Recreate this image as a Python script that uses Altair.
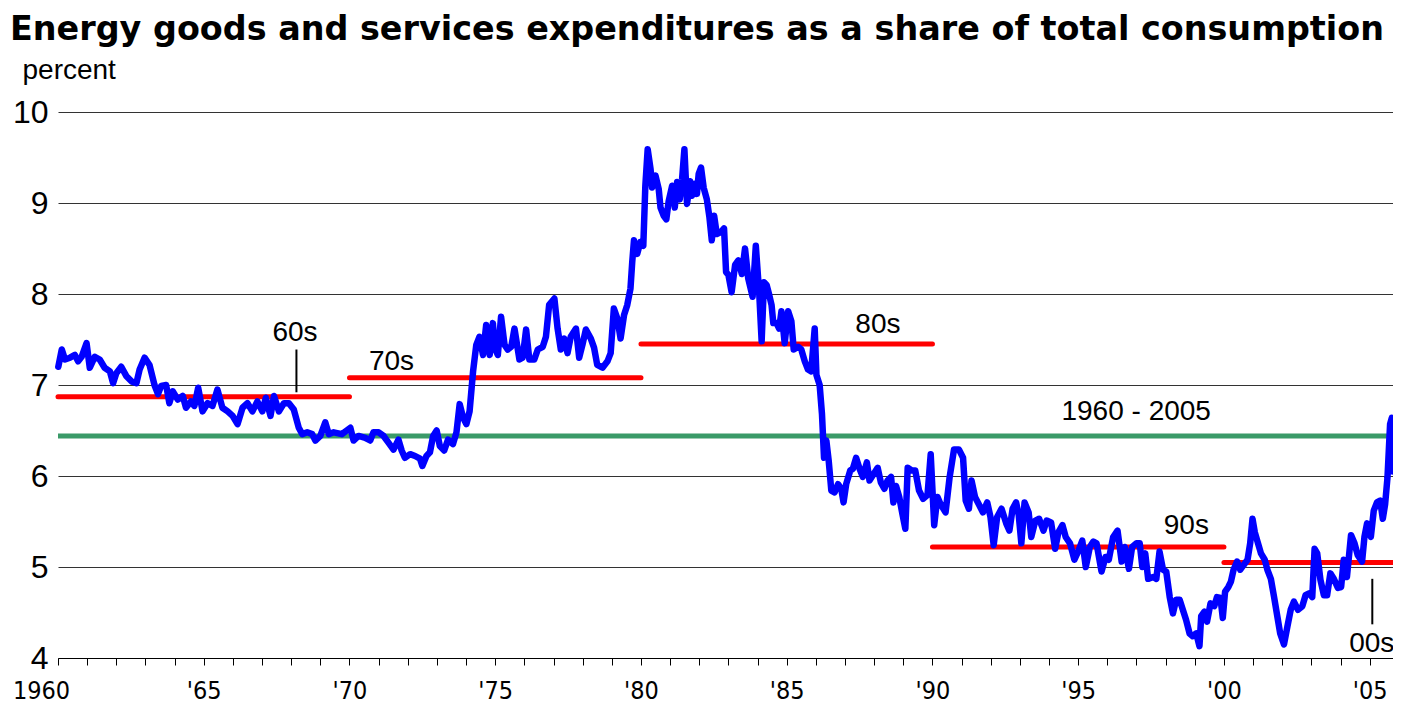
import altair as alt
import pandas as pd

# ---- monthly-ish series ----
years = [
    1960.01, 1960.13, 1960.24, 1960.41, 1960.58, 1960.69, 1960.81, 1960.98, 1961.09, 1961.26,
    1961.43, 1961.60, 1961.78, 1961.89, 1962.00, 1962.17, 1962.34, 1962.52, 1962.69, 1962.80,
    1962.97, 1963.14, 1963.31, 1963.43, 1963.54, 1963.71, 1963.82, 1963.94, 1964.11, 1964.28,
    1964.39, 1964.56, 1964.68, 1964.81, 1964.96, 1965.13, 1965.30, 1965.47, 1965.64, 1965.82,
    1965.99, 1966.16, 1966.33, 1966.50, 1966.67, 1966.84, 1967.01, 1967.13, 1967.29, 1967.41,
    1967.58, 1967.75, 1967.92, 1968.09, 1968.26, 1968.38, 1968.55, 1968.72, 1968.83, 1969.00,
    1969.17, 1969.29, 1969.46, 1969.74,
    1970.03, 1970.14, 1970.31, 1970.54, 1970.71, 1970.82, 1971.00, 1971.17, 1971.33, 1971.51,
    1971.68, 1971.79, 1971.90, 1972.08, 1972.25, 1972.42, 1972.50, 1972.64, 1972.76, 1972.87,
    1972.99, 1973.10, 1973.25, 1973.38, 1973.55, 1973.67, 1973.78, 1973.90, 1974.01, 1974.12,
    1974.24, 1974.35, 1974.46, 1974.58, 1974.69, 1974.81, 1974.92, 1974.98, 1975.09, 1975.20,
    1975.32, 1975.43, 1975.55, 1975.66, 1975.83, 1975.94, 1976.06, 1976.17, 1976.34, 1976.46,
    1976.63, 1976.74, 1976.85, 1977.03, 1977.14, 1977.25, 1977.37, 1977.48, 1977.59, 1977.77,
    1977.88, 1977.99, 1978.11, 1978.28, 1978.39, 1978.50, 1978.68, 1978.85, 1978.96, 1979.07,
    1979.19, 1979.30, 1979.42, 1979.53, 1979.64,
    1979.70, 1979.76, 1979.87, 1979.98, 1980.08, 1980.15, 1980.23, 1980.33, 1980.38, 1980.50,
    1980.61, 1980.67, 1980.78, 1980.87, 1980.95, 1981.07, 1981.16, 1981.24, 1981.33, 1981.41,
    1981.49, 1981.58, 1981.69, 1981.75, 1981.86, 1981.92, 1981.98, 1982.06, 1982.15, 1982.26,
    1982.35, 1982.43, 1982.51, 1982.60, 1982.74, 1982.85, 1982.92, 1983.00, 1983.11, 1983.23,
    1983.34, 1983.46, 1983.57, 1983.68, 1983.83, 1983.94, 1984.06, 1984.14, 1984.22, 1984.31,
    1984.40, 1984.48, 1984.54, 1984.65, 1984.74, 1984.82, 1984.93, 1985.05, 1985.16, 1985.24,
    1985.39, 1985.50, 1985.62, 1985.73, 1985.84, 1985.96, 1986.02, 1986.13, 1986.21, 1986.28,
    1986.36, 1986.44, 1986.53, 1986.64, 1986.76, 1986.87, 1986.95, 1987.04, 1987.18, 1987.27,
    1987.38, 1987.50, 1987.61, 1987.75, 1987.84,
    1988.12, 1988.23, 1988.35, 1988.46, 1988.58, 1988.66, 1988.75, 1988.86, 1988.97, 1989.07,
    1989.15, 1989.29, 1989.41, 1989.54, 1989.68, 1989.83, 1989.94, 1990.06, 1990.17, 1990.28,
    1990.45, 1990.59, 1990.74, 1990.91, 1991.05, 1991.14, 1991.25, 1991.34, 1991.46, 1991.59,
    1991.73, 1991.88, 1991.99, 1992.10, 1992.22, 1992.37, 1992.53, 1992.64, 1992.75, 1992.87,
    1992.96, 1993.05, 1993.16, 1993.30, 1993.39, 1993.53, 1993.66, 1993.81, 1993.92, 1994.07,
    1994.21, 1994.32, 1994.46, 1994.57, 1994.72, 1994.87, 1995.01, 1995.14, 1995.26, 1995.40,
    1995.52, 1995.63, 1995.80, 1995.94, 1996.05, 1996.20, 1996.35, 1996.49, 1996.60, 1996.74,
    1996.85, 1997.00, 1997.11,
    1997.20, 1997.30, 1997.40, 1997.57, 1997.68, 1997.79, 1997.91, 1998.02, 1998.14, 1998.25,
    1998.36, 1998.48, 1998.59, 1998.70, 1998.82, 1998.93, 1999.05, 1999.16, 1999.22, 1999.33,
    1999.42, 1999.54, 1999.67, 1999.76, 1999.88, 1999.96, 2000.04, 2000.15, 2000.24, 2000.33,
    2000.45, 2000.56, 2000.67, 2000.81, 2000.90, 2000.98, 2001.06, 2001.17, 2001.27, 2001.40,
    2001.49, 2001.61, 2001.72, 2001.83, 2001.93, 2002.06, 2002.18, 2002.29, 2002.40, 2002.54,
    2002.69, 2002.80, 2002.92, 2003.03, 2003.11, 2003.20, 2003.31, 2003.43, 2003.54, 2003.65,
    2003.77, 2003.91, 2004.02, 2004.11, 2004.22, 2004.36, 2004.48, 2004.59, 2004.74, 2004.82,
    2004.91, 2005.04, 2005.14, 2005.25, 2005.36, 2005.45, 2005.53, 2005.61, 2005.70, 2005.76,
    2005.80,
]

share = [
    7.20, 7.39, 7.28, 7.30, 7.33, 7.26, 7.31, 7.46, 7.19, 7.31,
    7.28, 7.19, 7.15, 7.02, 7.13, 7.20, 7.10, 7.04, 7.02, 7.17,
    7.30, 7.22, 7.00, 6.90, 6.99, 7.00, 6.80, 6.93, 6.84, 6.88,
    6.75, 6.82, 6.77, 6.97, 6.71, 6.80, 6.77, 6.95, 6.75, 6.71,
    6.66, 6.57, 6.75, 6.80, 6.71, 6.82, 6.71, 6.86, 6.66, 6.88,
    6.71, 6.80, 6.80, 6.73, 6.53, 6.46, 6.48, 6.46, 6.39, 6.44,
    6.59, 6.46, 6.48, 6.46,
    6.53, 6.39, 6.44, 6.42, 6.39, 6.48, 6.48, 6.44, 6.37, 6.29,
    6.40, 6.28, 6.20, 6.24, 6.22, 6.19, 6.11, 6.22, 6.26, 6.44,
    6.50, 6.33, 6.28, 6.40, 6.35, 6.48, 6.79, 6.64, 6.57, 6.71,
    7.15, 7.44, 7.53, 7.33, 7.66, 7.33, 7.68, 7.41, 7.33, 7.75,
    7.44, 7.39, 7.42, 7.62, 7.28, 7.30, 7.61, 7.28, 7.28, 7.39,
    7.42, 7.53, 7.88, 7.95, 7.62, 7.39, 7.51, 7.35, 7.53, 7.62,
    7.30, 7.44, 7.61, 7.51, 7.41, 7.22, 7.19, 7.26, 7.35, 7.84,
    7.73, 7.51, 7.77, 7.88, 8.06,
    8.35, 8.59, 8.44, 8.57, 8.53, 9.19, 9.59, 9.37, 9.17, 9.30,
    9.15, 8.95, 8.86, 8.82, 9.02, 9.19, 8.95, 9.23, 9.04, 9.26,
    9.59, 8.99, 9.24, 9.08, 9.21, 9.10, 9.32, 9.39, 9.17, 9.04,
    8.84, 8.59, 8.86, 8.66, 8.68, 8.72, 8.24, 8.21, 8.02, 8.32,
    8.37, 8.22, 8.50, 8.17, 7.97, 8.53, 7.99, 7.48, 8.13, 8.10,
    7.99, 7.88, 7.68, 7.68, 7.62, 7.81, 7.46, 7.81, 7.70, 7.39,
    7.42, 7.39, 7.26, 7.17, 7.15, 7.62, 7.11, 7.00, 6.68, 6.20,
    6.39, 6.17, 5.84, 5.82, 5.91, 5.86, 5.71, 5.91, 6.06, 6.08,
    6.20, 6.08, 5.99, 6.15, 5.95,
    6.09, 5.93, 5.86, 5.95, 5.99, 5.71, 5.89, 5.77, 5.58, 5.42,
    6.09, 6.06, 6.06, 5.84, 5.75, 5.79, 6.24, 5.46, 5.77, 5.69,
    5.60, 5.99, 6.29, 6.29, 6.20, 5.73, 5.64, 5.95, 5.77, 5.69,
    5.60, 5.71, 5.55, 5.24, 5.55, 5.64, 5.48, 5.40, 5.64, 5.71,
    5.57, 5.26, 5.71, 5.60, 5.33, 5.51, 5.53, 5.40, 5.51, 5.49,
    5.20, 5.38, 5.46, 5.33, 5.26, 5.08, 5.18, 5.29, 5.00, 5.22,
    5.28, 5.26, 4.95, 5.11, 5.08, 5.33, 5.40, 5.06, 5.22, 4.98,
    5.22, 5.26, 5.26,
    5.00, 5.15, 4.87, 4.89, 4.87, 5.17, 4.97, 4.95, 4.67, 4.49,
    4.64, 4.64, 4.53, 4.42, 4.27, 4.24, 4.27, 4.13, 4.46, 4.51,
    4.40, 4.60, 4.57, 4.67, 4.66, 4.44, 4.73, 4.78, 4.84, 4.97,
    5.06, 4.97, 5.02, 5.08, 5.26, 5.53, 5.38, 5.26, 5.15, 5.08,
    4.97, 4.87, 4.67, 4.46, 4.27, 4.15, 4.35, 4.53, 4.62, 4.53,
    4.57, 4.69, 4.71, 4.67, 5.20, 5.15, 4.86, 4.69, 4.69, 4.93,
    4.87, 4.77, 4.78, 5.08, 4.89, 5.35, 5.26, 5.13, 5.06, 5.33,
    5.48, 5.33, 5.62, 5.71, 5.73, 5.53, 5.69, 5.98, 6.57, 6.64,
    6.05,
]

# ---- period averages ----
decade_label = ["60s", "70s", "80s", "90s", "00s"]
decade_start = [1960, 1970, 1980, 1990, 2000]
decade_end = [1970, 1980, 1990, 2000, 2005.8]
decade_avg = [6.87, 7.08, 7.45, 5.22, 5.05]

overall_start = [1960]
overall_end = [2005.8]
overall_avg = [6.44]

# ---- annotation labels (anchored in data units) ----
ann_text = ["60s", "70s", "80s", "90s", "00s", "1960 - 2005"]
ann_year = [1968.13, 1971.44, 1988.13, 1998.71, 2005.07, 1996.99]
ann_value = [7.48, 7.16, 7.57, 5.36, 4.07, 6.61]

leader_year = [1968.18, 2005.09]
leader_top = [7.39, 4.87]
leader_bottom = [6.92, 4.37]

XDOM = [1960, 2005.8]
YDOM = [4, 10]
YTICKS = [4, 5, 6, 7, 8, 9, 10]
XTICKS = list(range(1960, 2006))

series = pd.DataFrame({"year": years, "share": share})
decades = pd.DataFrame({"label": decade_label, "start": decade_start,
                        "end": decade_end, "avg": decade_avg})
overall = pd.DataFrame({"start": overall_start, "end": overall_end, "avg": overall_avg})
ann = pd.DataFrame({"text": ann_text, "year": ann_year, "value": ann_value})
leaders = pd.DataFrame({"year": leader_year, "top": leader_top, "bottom": leader_bottom})

xscale = alt.Scale(domain=XDOM, nice=False, zero=False)
yscale = alt.Scale(domain=YDOM, nice=False, zero=False)

label_expr = ("datum.value == 1960 ? '1960' : (datum.value % 5 == 0 ? "
              "\"'\" + substring(toString(datum.value), 2, 4) : '')")

x_axis = alt.Axis(
    values=XTICKS, labelExpr=label_expr, title=None,
    grid=False, tickSize=7, tickColor="#000000", tickWidth=1,
    domainColor="#000000", domainWidth=1.2, labelOverlap=False, labelFlush=False,
    labelFont="DejaVu Sans Condensed, Liberation Sans",
    labelFontSize=25, labelColor="#000000", labelPadding=13,
    labelOffset={"condition": {"test": "datum.value == 1960", "value": -17}, "value": 0},
)
y_axis = alt.Axis(
    values=YTICKS, grid=True, gridColor="#333333", gridWidth=1,
    domain=False, ticks=False, labelPadding=10, labelFont="Liberation Sans",
    labelFontSize=32, labelColor="#000000",
    title="percent", titleAngle=0, titleAlign="left", titleBaseline="alphabetic",
    titleX=-36, titleY=-34, titleFont="Liberation Sans", titleFontSize=28,
    titleFontWeight="normal", titleColor="#000000",
)


def xenc(field):
    return alt.X(field, scale=xscale, axis=x_axis)


def yenc(field):
    return alt.Y(field, scale=yscale, axis=y_axis)


green = alt.Chart(overall).mark_rule(color="#3A9A68", strokeWidth=5).encode(
    x=xenc("start:Q"), x2="end:Q", y=yenc("avg:Q"),
)

red = alt.Chart(decades).mark_rule(color="#FF0000", strokeWidth=5, strokeCap="round").encode(
    x=xenc("start:Q"), x2="end:Q", y=yenc("avg:Q"),
)

blue = alt.Chart(series).mark_line(
    color="#0000FF", strokeWidth=6.5, strokeJoin="round", strokeCap="round"
).encode(
    x=xenc("year:Q"), y=yenc("share:Q"),
)

lead = alt.Chart(leaders).mark_rule(color="#000000", strokeWidth=2).encode(
    x=xenc("year:Q"), y=yenc("top:Q"), y2="bottom:Q",
)

labels = alt.Chart(ann).mark_text(
    font="Liberation Sans", fontSize=28, color="#000000", align="center", baseline="alphabetic"
).encode(
    x=xenc("year:Q"), y=yenc("value:Q"), text="text:N",
)

chart = alt.layer(green, red, blue, lead, labels).properties(
    width=1335,
    height=546,
    autosize=alt.AutoSizeParams(type="none"),
    padding={"left": 50, "top": 104, "right": 0, "bottom": 50},
    title=alt.TitleParams(
        text="Energy goods and services expenditures as a share of total consumption",
        anchor="start", frame="group", dx=-48, offset=9,
        font="DejaVu Sans", fontSize=33.4, fontWeight="bold", color="#000000",
    ),
).configure_view(stroke=None)

chart.save("out.html", embed_options={"renderer": "svg", "actions": False})
